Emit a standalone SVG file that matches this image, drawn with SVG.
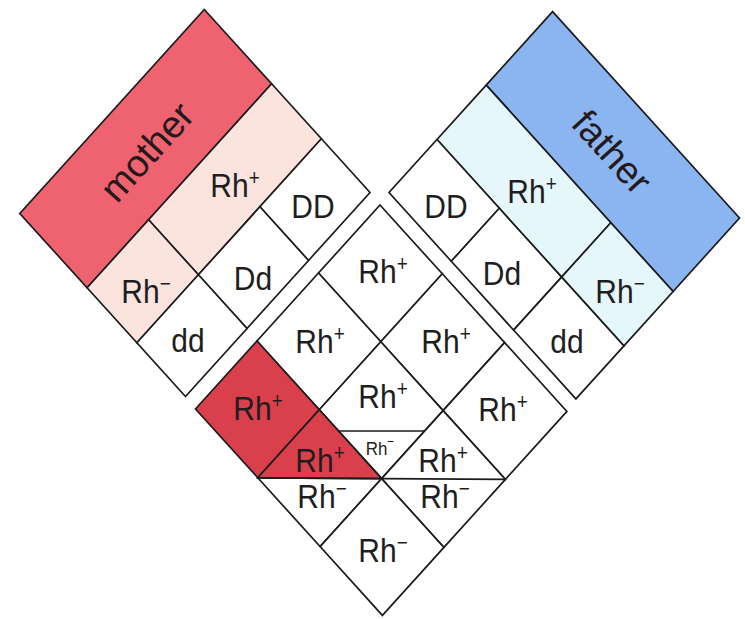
<svg xmlns="http://www.w3.org/2000/svg" width="745" height="619" viewBox="0 0 745 619">
<style>
.ln{stroke:#1c1c1c;stroke-width:1.7;stroke-linejoin:miter}
.w{fill:#ffffff}
.mb{fill:#ef6371}
.ml{fill:#fbe3de}
.fb{fill:#8bb5f1}
.fl{fill:#e6f7fb}
.red{fill:#da3f4c}
.t{font-family:"Liberation Sans",Arial,Helvetica,sans-serif;font-size:30px;fill:#1e1e1e;text-anchor:middle}
.sup{font-size:19px}
.sm{font-size:17px}
.smsup{font-size:12px}
.big{font-family:"Liberation Sans",Arial,Helvetica,sans-serif;font-size:38px;fill:#231a1c;text-anchor:middle}
</style>
<rect width="745" height="619" fill="#ffffff"/>

<g id="mother">
  <g id="mother-band">
    <polygon class="mb ln" points="204.3,9.5 271.6,83.8 87.1,287.8 19.8,213.5"/>
    <text class="big" transform="translate(147,152) rotate(-47.9)" y="13">mother</text>
  </g>
  <g id="mother-rh-pos">
    <polygon class="ml ln" points="271.6,83.8 321.4,138.8 198.4,274.8 148.6,219.8"/>
    <text class="t" transform="translate(235,197) scale(1,1.12)">Rh<tspan class="sup" dy="-11">+</tspan></text>
  </g>
  <g id="mother-rh-neg">
    <polygon class="ml ln" points="148.6,219.8 198.4,274.8 136.9,342.8 87.1,287.8"/>
    <text class="t" transform="translate(146,303) scale(1,1.12)">Rh<tspan class="sup" dy="-11">−</tspan></text>
  </g>
  <g id="mother-DD">
    <polygon class="w ln" points="321.4,138.8 370,192.5 308.5,260.5 259.9,206.8"/>
    <text class="t" transform="translate(313,218) scale(1,1.12)">DD</text>
  </g>
  <g id="mother-Dd">
    <polygon class="w ln" points="259.9,206.8 308.5,260.5 247,328.5 198.4,274.8"/>
    <text class="t" transform="translate(253,290) scale(1,1.12)">Dd</text>
  </g>
  <g id="mother-dd">
    <polygon class="w ln" points="198.4,274.8 247,328.5 185.5,396.5 136.9,342.8"/>
    <text class="t" transform="translate(188,352) scale(1,1.12)">dd</text>
  </g>
</g>

<g id="father">
  <g id="father-band">
    <polygon class="fb ln" points="552.6,11.6 739.5,218 673.1,291.5 486.2,85.1"/>
    <text class="big" transform="translate(612,152) rotate(47.8)" y="13">father</text>
  </g>
  <g id="father-rh-pos">
    <polygon class="fl ln" points="486.2,85.1 610.8,222.7 561.6,277.1 437,139.5"/>
    <text class="t" transform="translate(532,203) scale(1,1.12)">Rh<tspan class="sup" dy="-11">+</tspan></text>
  </g>
  <g id="father-rh-neg">
    <polygon class="fl ln" points="610.8,222.7 673.1,291.5 623.9,345.9 561.6,277.1"/>
    <text class="t" transform="translate(620,303) scale(1,1.12)">Rh<tspan class="sup" dy="-11">−</tspan></text>
  </g>
  <g id="father-DD">
    <polygon class="w ln" points="437,139.5 499.3,208.3 451.3,261.3 389,192.5"/>
    <text class="t" transform="translate(446,218) scale(1,1.12)">DD</text>
  </g>
  <g id="father-Dd">
    <polygon class="w ln" points="499.3,208.3 561.6,277.1 513.6,330.1 451.3,261.3"/>
    <text class="t" transform="translate(502,285) scale(1,1.12)">Dd</text>
  </g>
  <g id="father-dd">
    <polygon class="w ln" points="561.6,277.1 623.9,345.9 575.9,398.9 513.6,330.1"/>
    <text class="t" transform="translate(567,353) scale(1,1.12)">dd</text>
  </g>
</g>

<g id="offspring">
  <g id="cell-DD-DD">
    <polygon class="w ln" points="380,205 442.3,273.8 380.8,341.8 318.5,273"/>
    <text class="t" transform="translate(383,283) scale(1,1.12)">Rh<tspan class="sup" dy="-11">+</tspan></text>
  </g>
  <g id="cell-Dd-DD">
    <polygon class="w ln" points="318.5,273 380.8,341.8 319.3,409.8 257,341"/>
    <text class="t" transform="translate(320,353) scale(1,1.12)">Rh<tspan class="sup" dy="-11">+</tspan></text>
  </g>
  <g id="cell-DD-Dd">
    <polygon class="w ln" points="442.3,273.8 504.6,342.6 443.1,410.6 380.8,341.8"/>
    <text class="t" transform="translate(446,353) scale(1,1.12)">Rh<tspan class="sup" dy="-11">+</tspan></text>
  </g>
  <g id="cell-dd-DD">
    <polygon class="red ln" points="257,341 319.3,409.8 257.8,477.8 195.5,409"/>
    <text class="t" transform="translate(258,420) scale(1,1.12)">Rh<tspan class="sup" dy="-11">+</tspan></text>
  </g>
  <g id="cell-DD-dd">
    <polygon class="w ln" points="504.6,342.6 566.9,411.4 505.4,479.4 443.1,410.6"/>
    <text class="t" transform="translate(503,421) scale(1,1.12)">Rh<tspan class="sup" dy="-11">+</tspan></text>
  </g>
  <g id="cell-Dd-Dd">
    <polygon class="w ln" points="380.8,341.8 443.1,410.6 381.6,478.6 319.3,409.8"/>
    <text class="t" transform="translate(383,408) scale(1,1.12)">Rh<tspan class="sup" dy="-11">+</tspan></text>
    <text class="t sm" transform="translate(380,455) scale(1,1.12)">Rh<tspan class="smsup" dy="-8">−</tspan></text>
  </g>
  <g id="cell-dd-Dd">
    <polygon class="w ln" points="319.3,409.8 381.6,478.6 320.1,546.6 257.8,477.8"/>
    <polygon class="red ln" points="319.3,409.8 381.6,478.6 257.8,477.8"/>
    <text class="t" transform="translate(320,472) scale(1,1.12)">Rh<tspan class="sup" dy="-11">+</tspan></text>
    <text class="t" transform="translate(322,508) scale(1,1.12)">Rh<tspan class="sup" dy="-11">−</tspan></text>
  </g>
  <g id="cell-Dd-dd">
    <polygon class="w ln" points="443.1,410.6 505.4,479.4 443.9,547.4 381.6,478.6"/>
    <text class="t" transform="translate(443,472) scale(1,1.12)">Rh<tspan class="sup" dy="-11">+</tspan></text>
    <text class="t" transform="translate(445,508) scale(1,1.12)">Rh<tspan class="sup" dy="-11">−</tspan></text>
  </g>
  <g id="cell-dd-dd">
    <polygon class="w ln" points="381.6,478.6 443.9,547.4 382.4,615.4 320.1,546.6"/>
    <text class="t" transform="translate(383,562) scale(1,1.12)">Rh<tspan class="sup" dy="-11">−</tspan></text>
  </g>
</g>

<g id="connectors" fill="none">
  <polyline class="ln" points="257.8,477.8 381.6,478.6 505.4,479.4"/>
  <line class="ln" x1="338.5" y1="431" x2="424.6" y2="431"/>
</g>
</svg>
